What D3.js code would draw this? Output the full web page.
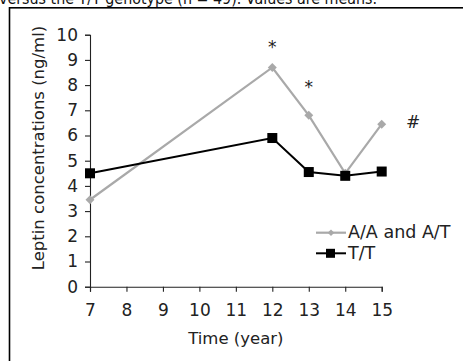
<!DOCTYPE html>
<html><head><meta charset="utf-8">
<script src="https://cdn.jsdelivr.net/npm/d3@7"></script>
<style>html,body{margin:0;padding:0;background:#fff;overflow:hidden}</style>
</head><body>
<svg id="c" width="463" height="361"></svg>
<script>
const years = [7, 12, 13, 14, 15];
const seriesNames = ["A/A and A/T", "T/T"];
const aaValues = [3.45, 8.7, 6.8, 4.5, 6.45];
const ttValues = [4.5, 5.9, 4.55, 4.4, 4.57];
const xTicks = [7, 8, 9, 10, 11, 12, 13, 14, 15];
const yTicks = [0, 1, 2, 3, 4, 5, 6, 7, 8, 9, 10];
const annoLabels = ["*", "*", "#"];
const annoX = [12, 13, 15.86];
const annoY = [9.26, 7.7, 6.3];
const captionText = "versus the T/T genotype (n = 49). Values are means.";

const svg = d3.select("#c");
const font = "DejaVu Sans, Verdana, sans-serif";
const x = d3.scaleLinear().domain([7, 15]).range([90, 381.7]);
const y = d3.scaleLinear().domain([0, 10]).range([286.7, 34.7]);

svg.append("text").attr("x", -1).attr("y", 3.8).attr("font-family", font).attr("font-size", 15.5)
  .attr("textLength", 378).attr("lengthAdjust", "spacingAndGlyphs")
  .attr("fill", "#111").text(captionText);
svg.append("rect").attr("x", 9.5).attr("y", 7.8).attr("width", 470).attr("height", 370)
  .attr("fill", "none").attr("stroke", "#000").attr("stroke-width", 1.6);

const gx = svg.append("g").attr("transform", `translate(0,${y(0)})`)
  .call(d3.axisBottom(x).tickValues(xTicks).tickFormat(d3.format("d")).tickSizeOuter(0).tickSize(5).tickPadding(12));
const gy = svg.append("g").attr("transform", `translate(${x(7)},0)`)
  .call(d3.axisLeft(y).tickValues(yTicks).tickFormat(d3.format("d")).tickSizeOuter(0).tickSize(5).tickPadding(7));
[gx, gy].forEach(g => {
  g.selectAll("path,line").attr("stroke", "#222").attr("stroke-width", 1.1);
  g.selectAll("text").attr("font-family", font).attr("font-size", 17).attr("fill", "#222");
});

svg.append("text").attr("x", x(11)).attr("y", 344).attr("text-anchor", "middle")
  .attr("font-family", font).attr("font-size", 16.5).attr("fill", "#222").text("Time (year)");
svg.append("text").attr("transform", "translate(44,148) rotate(-90)").attr("text-anchor", "middle")
  .attr("font-family", font).attr("font-size", 16.5).attr("fill", "#222").text("Leptin concentrations (ng/ml)");

const line = d3.line().x((d, i) => x(years[i])).y(d => y(d));
const grey = "#a9a9a9";
svg.append("path").datum(aaValues).attr("d", line).attr("fill", "none").attr("stroke", grey).attr("stroke-width", 2.2);
svg.append("path").datum(ttValues).attr("d", line).attr("fill", "none").attr("stroke", "#000").attr("stroke-width", 2);

const diamond = d3.symbol().type(d3.symbolSquare).size(40);
svg.selectAll(".dm").data(aaValues).join("path")
  .attr("transform", (d, i) => `translate(${x(years[i])},${y(d)}) rotate(45)`)
  .attr("d", diamond).attr("fill", grey);
svg.selectAll(".sq").data(ttValues).join("rect")
  .attr("x", (d, i) => x(years[i]) - 5).attr("y", d => y(d) - 5)
  .attr("width", 10).attr("height", 10).attr("fill", "#000");

svg.selectAll(".an").data(annoLabels).join("text")
  .attr("x", (d, i) => x(annoX[i])).attr("y", (d, i) => y(annoY[i]))
  .attr("text-anchor", "middle").attr("font-family", font).attr("font-size", 17).attr("fill", "#222")
  .text(d => d);

// legend
const lg = svg.append("g");
const rows = [{c: grey, w: 2.2}, {c: "#000", w: 2}];
seriesNames.forEach((name, i) => {
  const ly = 232.7 + i * 20.6;
  lg.append("line").attr("x1", 316).attr("x2", 346).attr("y1", ly).attr("y2", ly)
    .attr("stroke", rows[i].c).attr("stroke-width", rows[i].w);
  if (i === 0) lg.append("path").attr("transform", `translate(331,${ly}) rotate(45)`).attr("d", d3.symbol().type(d3.symbolSquare).size(22)).attr("fill", grey);
  else lg.append("rect").attr("x", 326).attr("y", ly - 4.5).attr("width", 9).attr("height", 9).attr("fill", "#000");
  lg.append("text").attr("x", 348).attr("y", ly + 5.5).attr("font-family", font).attr("font-size", 17.5)
    .attr("fill", "#222").text(name);
});
</script>
</body></html>
